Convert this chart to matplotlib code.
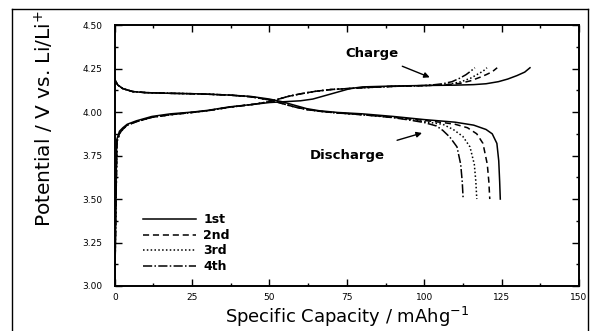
import matplotlib
matplotlib.use("Agg")
import matplotlib.pyplot as plt
from matplotlib.lines import Line2D
from matplotlib.ticker import MultipleLocator, FormatStrFormatter

plt.rcParams['font.family'] = ['DejaVu Sans']

# Charge curves (capacity mAh/g, potential V)
charge_1st_cap = [0, 0.3, 0.6, 1.5, 2.6, 4, 7, 12, 18, 25, 30, 37, 45, 50, 55, 60, 64, 68, 72,
                  76, 80, 90, 100, 110, 116, 120, 124, 127, 130, 132.5, 134.2]
charge_1st_v = [3.00, 3.40, 3.84, 3.89, 3.91, 3.93, 3.95, 3.975, 3.99, 4.00, 4.01, 4.03, 4.045,
                4.055, 4.06, 4.065, 4.075, 4.095, 4.115, 4.135, 4.145, 4.15, 4.153, 4.155, 4.158,
                4.163, 4.175, 4.19, 4.21, 4.23, 4.255]

charge_2nd_cap = [0, 0.3, 0.7, 1.6, 2.8, 4, 7, 12, 18, 25, 30, 37, 45, 50, 53, 56, 60, 65, 70,
                  80, 90, 100, 106, 111.5, 115, 118, 120, 122, 123.6]
charge_2nd_v = [3.00, 3.40, 3.83, 3.88, 3.905, 3.925, 3.945, 3.97, 3.985, 3.998, 4.008, 4.028,
                4.045, 4.06, 4.075, 4.09, 4.105, 4.12, 4.13, 4.14, 4.148, 4.152, 4.156, 4.165,
                4.18, 4.20, 4.215, 4.232, 4.255]

charge_3rd_cap = [0, 0.3, 0.7, 1.6, 2.8, 4, 7, 12, 18, 25, 30, 37, 45, 50, 53, 56, 60, 65, 70,
                  80, 90, 100, 104, 108, 112, 115, 117, 119, 120.3]
charge_3rd_v = [3.00, 3.40, 3.83, 3.88, 3.905, 3.925, 3.945, 3.97, 3.985, 3.998, 4.008, 4.028,
                4.045, 4.06, 4.075, 4.09, 4.105, 4.12, 4.13, 4.14, 4.148, 4.152, 4.156, 4.16,
                4.175, 4.195, 4.215, 4.235, 4.255]

charge_4th_cap = [0, 0.3, 0.7, 1.6, 2.8, 4, 7, 12, 18, 25, 30, 37, 45, 50, 53, 56, 60, 65, 70,
                  80, 90, 100, 103, 106, 109, 111.5, 113.5, 115, 116.4]
charge_4th_v = [3.00, 3.40, 3.83, 3.88, 3.905, 3.925, 3.945, 3.97, 3.985, 3.998, 4.008, 4.028,
                4.045, 4.06, 4.075, 4.09, 4.105, 4.12, 4.13, 4.14, 4.148, 4.153, 4.157, 4.163,
                4.175, 4.195, 4.215, 4.235, 4.255]

# Discharge curves
discharge_1st_cap = [0, 0.3, 1, 2.6, 5.8, 10, 18, 27, 37, 44, 50, 54, 58, 62, 66, 72, 80, 90,
                     100, 110, 116, 120, 122, 123.5, 124.1, 124.4, 124.6]
discharge_1st_v = [4.19, 4.175, 4.155, 4.135, 4.118, 4.112, 4.108, 4.105, 4.098, 4.09, 4.075,
                   4.06, 4.04, 4.02, 4.008, 3.998, 3.99, 3.975, 3.957, 3.942, 3.925, 3.90, 3.875,
                   3.82, 3.72, 3.60, 3.50]

discharge_2nd_cap = [0, 0.3, 1, 2.6, 5.8, 10, 18, 27, 37, 44, 50, 54, 58, 62, 66, 72, 80, 90,
                     100, 106, 110, 114, 117, 119, 120.4, 120.9, 121.2]
discharge_2nd_v = [4.19, 4.175, 4.155, 4.135, 4.118, 4.112, 4.108, 4.105, 4.098, 4.088, 4.07,
                   4.05, 4.03, 4.015, 4.005, 3.995, 3.985, 3.97, 3.952, 3.94, 3.93, 3.91, 3.875,
                   3.82, 3.70, 3.60, 3.50]

discharge_3rd_cap = [0, 0.3, 1, 2.6, 5.8, 10, 18, 27, 37, 44, 50, 54, 58, 62, 66, 72, 80, 90,
                     100, 106, 109.4, 112.5, 114.8, 116.2, 116.7, 117]
discharge_3rd_v = [4.19, 4.175, 4.155, 4.135, 4.118, 4.112, 4.108, 4.105, 4.098, 4.088, 4.07,
                   4.05, 4.03, 4.015, 4.005, 3.995, 3.985, 3.97, 3.945, 3.93, 3.90, 3.86, 3.80,
                   3.70, 3.60, 3.50]

discharge_4th_cap = [0, 0.3, 1, 2.6, 5.8, 10, 18, 27, 37, 44, 50, 54, 58, 62, 66, 72, 80, 90,
                     95, 100, 104, 106, 108.3, 110.6, 111.8, 112.3, 112.6]
discharge_4th_v = [4.19, 4.175, 4.155, 4.135, 4.118, 4.112, 4.108, 4.105, 4.098, 4.088, 4.07,
                   4.05, 4.03, 4.015, 4.005, 3.995, 3.985, 3.968, 3.955, 3.94, 3.92, 3.895,
                   3.856, 3.80, 3.70, 3.60, 3.50]

cycle_labels = ['1st', '2nd', '3rd', '4th']
line_styles = ['-', (0, (4, 2.5)), (0, (1, 1.5)), (0, (6, 1.5, 1, 1.5))]

charges = [(charge_1st_cap, charge_1st_v), (charge_2nd_cap, charge_2nd_v),
           (charge_3rd_cap, charge_3rd_v), (charge_4th_cap, charge_4th_v)]
discharges = [(discharge_1st_cap, discharge_1st_v), (discharge_2nd_cap, discharge_2nd_v),
              (discharge_3rd_cap, discharge_3rd_v), (discharge_4th_cap, discharge_4th_v)]

fig = plt.figure(figsize=(5.98, 3.31), dpi=100)
ax = fig.add_axes([0.192, 0.136, 0.776, 0.788])

for (cx, cv), (dx, dv), lab, ls in zip(charges, discharges, cycle_labels, line_styles):
    ax.plot(cx, cv, color='black', lw=1.1, linestyle=ls, label=lab)
    ax.plot(dx, dv, color='black', lw=1.1, linestyle=ls)

ax.set_xlim(0, 150)
ax.set_ylim(3.0, 4.5)
ax.xaxis.set_major_locator(MultipleLocator(25))
ax.xaxis.set_minor_locator(MultipleLocator(12.5))
ax.yaxis.set_major_locator(MultipleLocator(0.25))
ax.yaxis.set_minor_locator(MultipleLocator(0.125))
ax.yaxis.set_major_formatter(FormatStrFormatter('%.2f'))
ax.tick_params(which='both', direction='in', top=True, right=True, width=1.0, labelsize=6.5)
ax.tick_params(which='major', length=5)
ax.tick_params(which='minor', length=2.5)
ax.tick_params(axis='x', pad=5)
ax.tick_params(axis='y', pad=9)
for sp in ax.spines.values():
    sp.set_linewidth(1.4)

ax.set_xlabel('Specific Capacity / mAhg$^{-1}$', fontsize=13, labelpad=2)
fig.text(0.074, 0.314, 'Potential / V vs. Li/Li$^{+}$', rotation=90, fontsize=14.5,
         ha='center', va='bottom')

ax.legend(loc='upper left', bbox_to_anchor=(0.06, 0.278), frameon=False,
          prop={'weight': 'bold', 'size': 9}, handlelength=4.3, handletextpad=0.55,
          labelspacing=0.2, borderpad=0, borderaxespad=0)

ax.annotate('Charge', xy=(101.8, 4.20), xytext=(83, 4.335), ha='center', va='center',
            fontsize=9.5, fontweight='bold',
            arrowprops=dict(arrowstyle='-|>', color='black', lw=1.0, shrinkA=6, shrinkB=0,
                            mutation_scale=8))
ax.annotate('Discharge', xy=(99.3, 3.88), xytext=(75, 3.753), ha='center', va='center',
            fontsize=9.5, fontweight='bold',
            arrowprops=dict(arrowstyle='-|>', color='black', lw=1.0, shrinkA=14, shrinkB=0,
                            mutation_scale=8))

# outer frame of the scanned figure
fig.add_artist(Line2D([0.02, 0.02], [0.0, 0.973], color='black', lw=1.0, transform=fig.transFigure))
fig.add_artist(Line2D([0.02, 0.983], [0.973, 0.973], color='black', lw=1.0, transform=fig.transFigure))
fig.add_artist(Line2D([0.983, 0.983], [0.0, 0.973], color='black', lw=1.0, transform=fig.transFigure))

fig.savefig('out.png', dpi=100)
